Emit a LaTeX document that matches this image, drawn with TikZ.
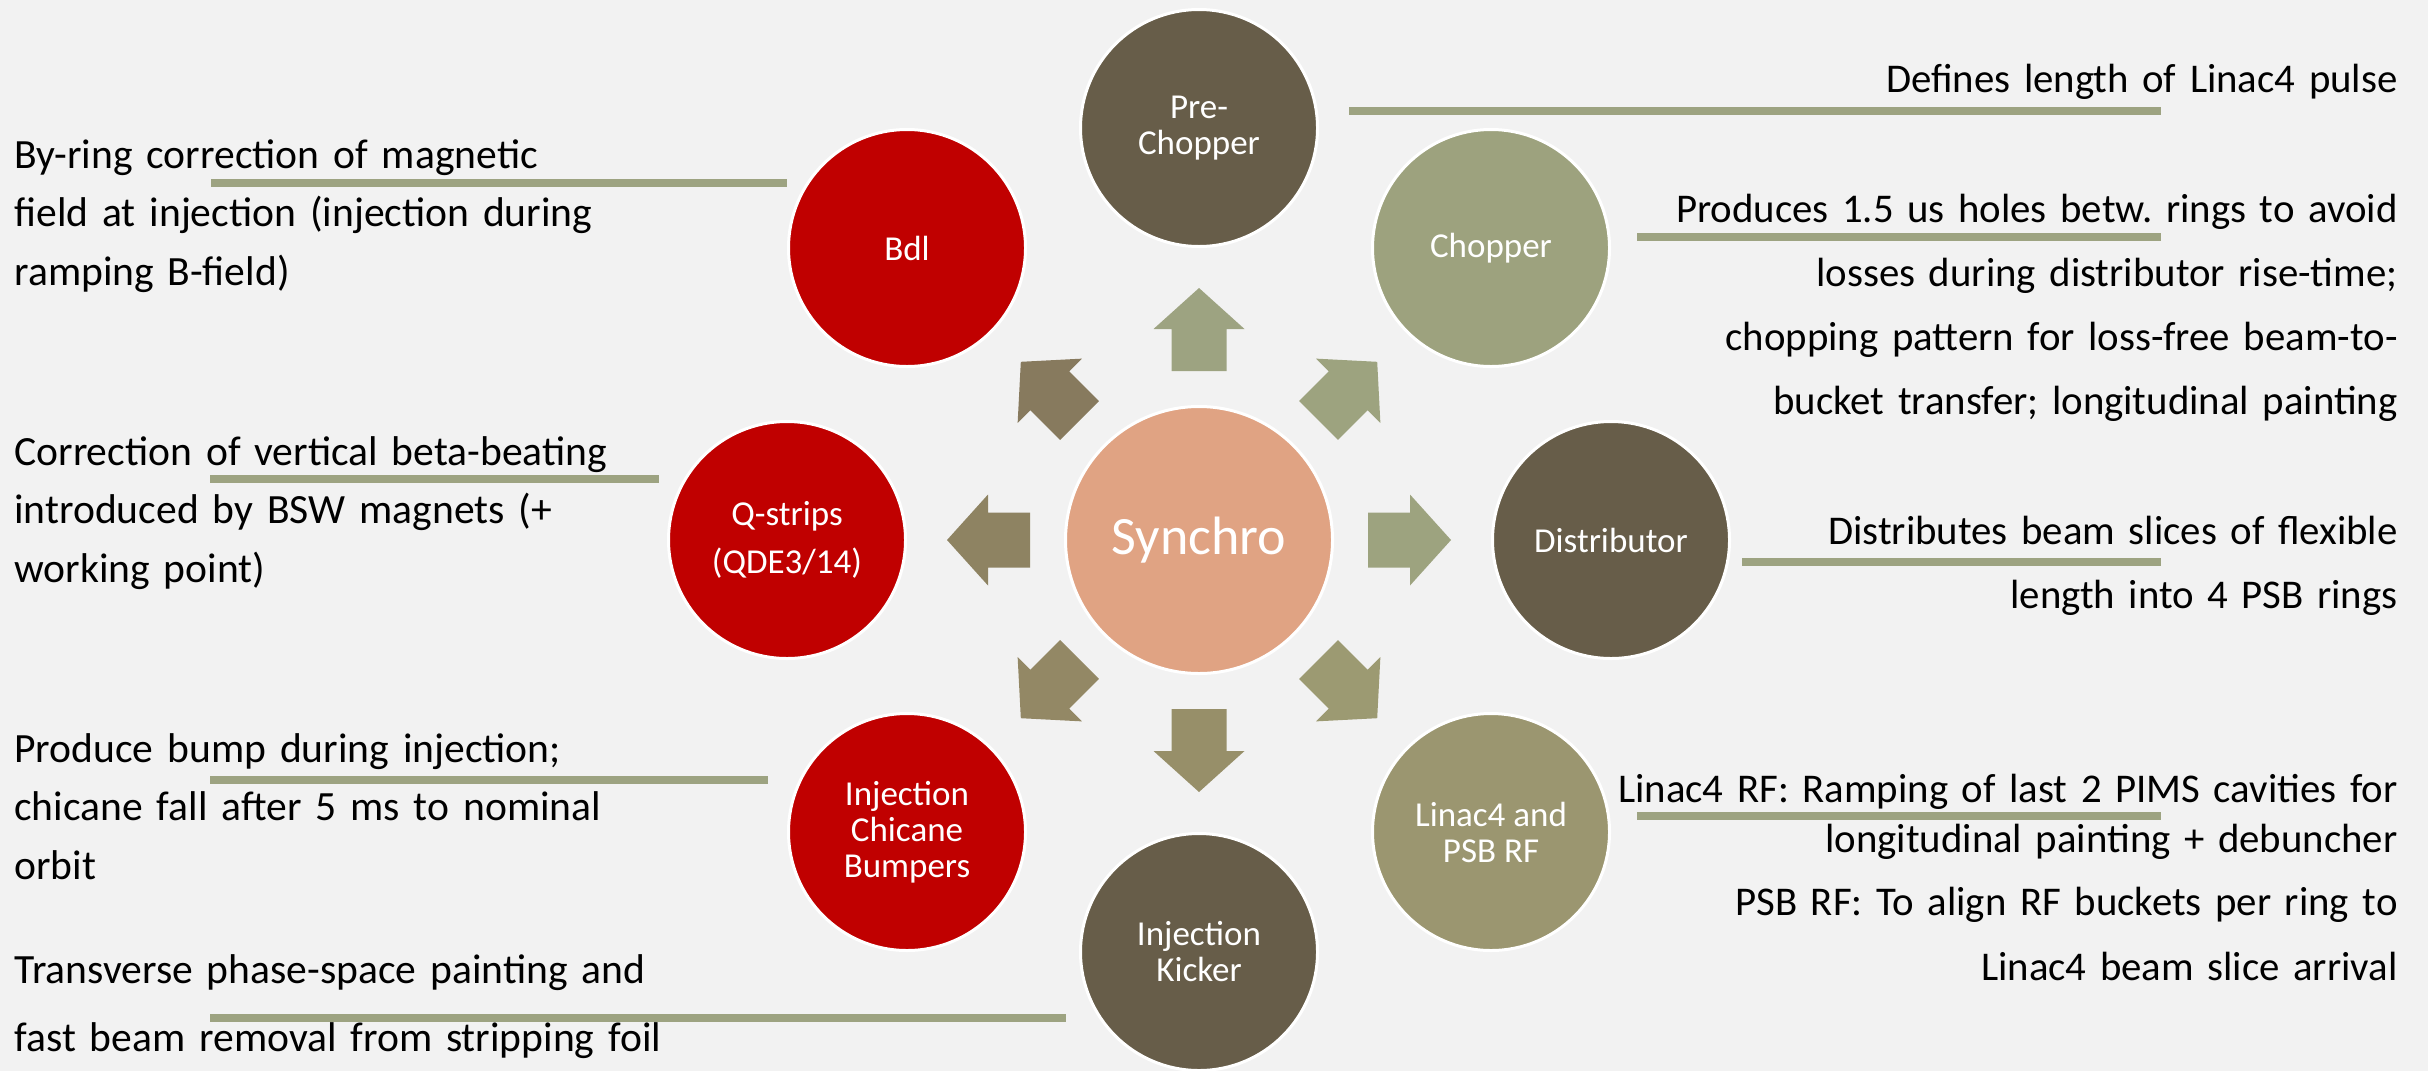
\documentclass[tikz,border=0pt]{standalone}
\usepackage{fontspec}
\setmainfont{Carlito}
\definecolor{bg}{HTML}{F2F2F2}
\definecolor{darkb}{HTML}{675D49}
\definecolor{sage}{HTML}{9DA27E}
\definecolor{olive}{HTML}{9B9670}
\definecolor{redc}{HTML}{C00000}
\definecolor{synch}{HTML}{E0A383}
\definecolor{linec}{HTML}{9DA381}
\definecolor{arA}{HTML}{9DA381}
\definecolor{arB}{HTML}{9DA37F}
\definecolor{arC}{HTML}{9DA37F}
\definecolor{arD}{HTML}{9C9A72}
\definecolor{arE}{HTML}{978F69}
\definecolor{arF}{HTML}{938865}
\definecolor{arG}{HTML}{8E8362}
\definecolor{arH}{HTML}{877A5E}
\frenchspacing
\begin{document}
\frenchspacing
\begin{tikzpicture}[x=0.5pt,y=-0.5pt,
  bubble/.style={circle, draw=white, line width=1.5pt, inner sep=0pt, minimum size=118.5pt, text=white, align=center, font=\fontsize{17.5}{18}\selectfont},
  lead/.style={draw=linec, line width=4pt},
  ldesc/.style={anchor=base west, inner sep=0pt, text width=360pt, align=left, font=\fontsize{20.8}{29.25}\selectfont},
  rdesc/.style={anchor=base east, inner sep=0pt, text width=440pt, align=right, font=\fontsize{20.4}{32}\selectfont}]
\fill[bg] (0,0) rectangle (2428,1071);
\useasboundingbox (0,0) rectangle (2428,1071);

% centre
\node[bubble, fill=synch, minimum size=133.5pt, font=\fontsize{27}{30}\selectfont] (S) at (1199,540) {Synchro};

% outer bubbles
\node[bubble, fill=darkb] (pre) at (1199,128) {Pre-\\Chopper};
\node[bubble, fill=sage] (chop) at (1491,248) {Chopper};
\node[bubble, fill=darkb] (dist) at (1611,540) {Distributor};
\node[bubble, fill=olive] (rf) at (1491,832) {Linac4 and\\PSB RF};
\node[bubble, fill=darkb] (kick) at (1199,952) {Injection\\Kicker};
\node[bubble, fill=redc] (chic) at (907,832) {Injection\\Chicane\\Bumpers};
\node[bubble, fill=redc, font=\fontsize{17.5}{24}\selectfont] (qs) at (787,540) {Q-strips\\(QDE3/14)};
\node[bubble, fill=redc] (bdl) at (907,248) {Bdl};

% block arrows
\foreach \ang/\col in {90/arA,45/arB,0/arC,-45/arD,-90/arE,-135/arF,180/arG,135/arH}
  \fill[\col, shift={(S.center)}, rotate=\ang] (169,-27.5) -- (211,-27.5) -- (211,-45.5) -- (252,0) -- (211,45.5) -- (211,27.5) -- (169,27.5) -- cycle;

% descriptions
\node[ldesc] (tbdl) at (14,168) {By-ring correction of magnetic\\field at injection (injection during\\ramping B-field)};
\node[ldesc] (tqs) at (14,465) {Correction of vertical beta-beating\\introduced by BSW magnets (+\\working point)};
\node[ldesc] (tchic) at (14,762) {Produce bump during injection;\\chicane fall after 5 ms to nominal\\orbit};
\node[ldesc, font=\fontsize{20.8}{34}\selectfont] (tkick) at (14,983) {Transverse phase-space painting and\\fast beam removal from stripping foil};
\node[rdesc] (tpre) at (2398,92) {Defines length of Linac4 pulse};
\node[rdesc] (tchop) at (2398,222) {Produces 1.5 us holes betw. rings to avoid\\losses during distributor rise-time;\\chopping pattern for loss-free beam-to-\\bucket transfer; longitudinal painting};
\node[rdesc] (tdist) at (2398,544) {Distributes beam slices of flexible\\length into 4 PSB rings};
\node[rdesc, font=\fontsize{20.4}{25}\selectfont] (trf) at (2398,802) {Linac4 RF: Ramping of last 2 PIMS cavities for\\longitudinal painting + debuncher\\[6.5pt]PSB RF: To align RF buckets per ring to\\[7.5pt]Linac4 beam slice arrival};

% leader lines
\coordinate (a1) at (211,183); \coordinate (a2) at (787,183);
\coordinate (b1) at (210,479); \coordinate (b2) at (659,479);
\coordinate (c1) at (210,780); \coordinate (c2) at (768,780);
\coordinate (d1) at (210,1018); \coordinate (d2) at (1066,1018);
\coordinate (e1) at (1349,111); \coordinate (e2) at (2161,111);
\coordinate (f1) at (1637,237); \coordinate (f2) at (2161,237);
\coordinate (g1) at (1742,562); \coordinate (g2) at (2161,562);
\coordinate (h1) at (1637,816); \coordinate (h2) at (2161,816);
\draw[lead] (a1) -- (a2);
\draw[lead] (b1) -- (b2);
\draw[lead] (c1) -- (c2);
\draw[lead] (d1) -- (d2);
\draw[lead] (e1) -- (e2);
\draw[lead] (f1) -- (f2);
\draw[lead] (g1) -- (g2);
\draw[lead] (h1) -- (h2);
\end{tikzpicture}
\end{document}
